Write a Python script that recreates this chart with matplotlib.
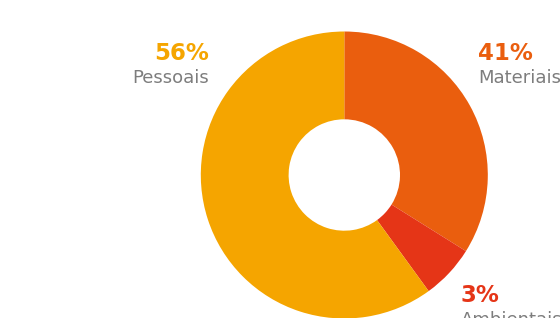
import matplotlib
matplotlib.use('Agg')
import matplotlib.pyplot as plt

plt.rcParams['font.family'] = ['DejaVu Sans']

# fatias na ordem horária a partir do topo
names = ['Materiais', 'Ambientais', 'Pessoais']
pct_labels = ['41%', '3%', '56%']
shares = [33.9, 6.1, 60.0]  # proporção desenhada no gráfico
colors = ['#EA5E0E', '#E53517', '#F5A500']
GRAY = '#7d7d7d'

W, H = 560, 318
fig = plt.figure(figsize=(W / 100, H / 100), dpi=100)
ax = fig.add_axes([0, 0, 1, 1])

R_OUT, R_IN = 143.5, 55.7
cx, cy = 344.3, H - 175
ax.pie(shares, colors=colors, startangle=90, counterclock=False,
       center=(cx, cy), radius=R_OUT,
       wedgeprops=dict(width=R_OUT - R_IN, linewidth=0))

# rótulos: (x, baseline do %, baseline do nome, alinhamento)
label_pos = {
    'Materiais': (478, 60, 83, 'left'),
    'Ambientais': (461, 302, 325, 'left'),
    'Pessoais': (209, 60, 83, 'right'),
}
for name, pct, col in zip(names, pct_labels, colors):
    x, yp, yn, ha = label_pos[name]
    ax.text(x, H - yp, pct, color=col, fontsize=16.5, fontweight='bold',
            ha=ha, va='baseline')
    ax.text(x, H - yn, name, color=GRAY, fontsize=13,
            ha=ha, va='baseline')

ax.set_xlim(0, W)
ax.set_ylim(0, H)
ax.set_aspect('auto')
ax.axis('off')

fig.savefig('out.png', dpi=100)
